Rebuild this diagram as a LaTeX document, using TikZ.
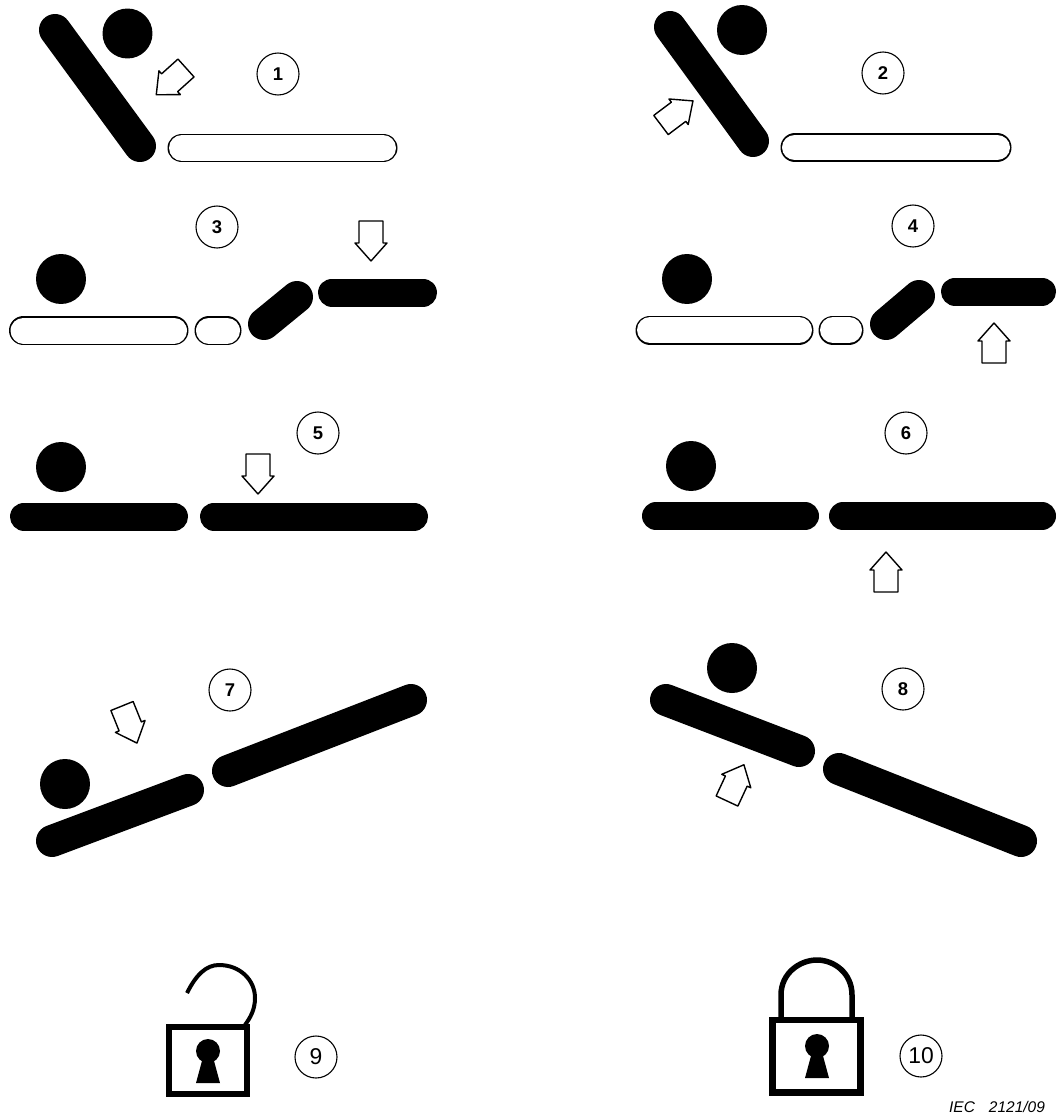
\documentclass[tikz,border=0pt]{standalone}
\usepackage{fontspec}
\setmainfont{Liberation Sans}

\begin{document}
\begin{tikzpicture}[x=0.02cm,y=-0.02cm,
    ball/.style={circle,fill=black,minimum size=1cm,inner sep=0pt},
    solidbar/.style={line width=.56cm,line cap=round},
    slantbar/.style={line width=.64cm,line cap=round},
    openbar/.style={line width=.03cm,double=white,double distance=.52cm,line cap=round},
    numbered/.style={circle,draw,line width=.022cm,minimum size=.84cm,inner sep=0pt,font=\bfseries\fontsize{10.5}{11}\selectfont},
    lockbody/.style={draw,line width=.13cm},
    hollowarrow/.pic={\draw[line width=.028cm,fill=white,line join=round]
      (-12,0) -- (12,0) -- (12,22) -- (16,22) -- (0,40) -- (-16,22) -- (-12,22) -- cycle;},
    keyhole/.pic={\fill (0,0) circle (12);
      \fill (-5.5,8) -- (5.5,8) -- (12,32) -- (-12,32) -- cycle;}]

\useasboundingbox (0,0) rectangle (1056,1115);

\node[ball] (b1) at (127.5,33.5) {};
\draw[slantbar] (55,30) -- (140,146);
\draw[openbar] (182,148) -- (383,148);
\pic[rotate=-48] (a1) at (186,68) {hollowarrow};
\node[numbered] (n1) at (278,74) {1};

\node[ball] (b2) at (742,30) {};
\draw[slantbar] (670,27) -- (753,141);
\draw[openbar] (795,147.5) -- (997,147.5);
\pic[rotate=127] (a2) at (661,125) {hollowarrow};
\node[numbered] (n2) at (883,73) {2};

\node[ball] (b3) at (61,279) {};
\draw[openbar] (23.5,330.5) -- (174,330.5);
\draw[openbar] (209,330.5) -- (227,330.5);
\draw[slantbar] (264,324) -- (297,297);
\draw[solidbar] (332,292.5) -- (423,292.5);
\pic (a3) at (371,221) {hollowarrow};
\node[numbered] (n3) at (217,227) {3};

\node[ball] (b4) at (687,279) {};
\draw[openbar] (650,330) -- (799,330);
\draw[openbar] (833,330) -- (849,330);
\draw[slantbar] (886,324) -- (919,296);
\draw[solidbar] (955,291.5) -- (1042,291.5);
\pic[rotate=180] (a4) at (994,363) {hollowarrow};
\node[numbered] (n4) at (913,226) {4};

\node[ball] (b5) at (61,467) {};
\draw[solidbar] (24,516.5) -- (174,516.5);
\draw[solidbar] (214,516.5) -- (414,516.5);
\pic (a5) at (258,454) {hollowarrow};
\node[numbered] (n5) at (318,433) {5};

\node[ball] (b6) at (691,466) {};
\draw[solidbar] (656,516) -- (805,516);
\draw[solidbar] (843,516) -- (1042,516);
\pic[rotate=180] (a6) at (886,592) {hollowarrow};
\node[numbered] (n6) at (906,433) {6};

\node[ball] (b7) at (65,784) {};
\draw[slantbar] (52,841) -- (188,790);
\draw[slantbar] (228,771) -- (411,700);
\pic[rotate=22] (a7) at (122,706) {hollowarrow};
\node[numbered] (n7) at (230,690) {7};

\node[ball] (b8) at (732,668) {};
\draw[slantbar] (666,700) -- (799,751);
\draw[slantbar] (839,769) -- (1021,841);
\pic[rotate=155] (a8) at (727,801) {hollowarrow};
\node[numbered] (n8) at (903,689) {8};

\draw[lockbody] (169,1027) rectangle (247,1094);
\draw[line width=.08cm] (187,993) .. controls (196,975) and (206,965) .. (219,965)
  .. controls (240,965) and (255,980) .. (255,998)
  .. controls (255,1010) and (250,1018) .. (245,1025);
\pic at (208,1051) {keyhole};
\node[numbered,font=\fontsize{13}{14}\selectfont] (n9) at (316,1057) {9};

\draw[lockbody] (772.5,1020) rectangle (860.5,1092.5);
\draw[line width=.11cm] (781,1018) -- (781,995) .. controls (781,973) and (800,960) .. (817,960)
  .. controls (834,960) and (852,973) .. (852,995) -- (852,1018);
\pic at (817,1046) {keyhole};
\node[numbered,font=\fontsize{13}{14}\selectfont] (n10) at (921,1056) {10};

\node[font=\itshape\fontsize{8.8}{10}\selectfont,inner sep=0pt] (iec) at (997,1107) {IEC\hspace{8pt}2121/09};
\end{tikzpicture}
\end{document}
